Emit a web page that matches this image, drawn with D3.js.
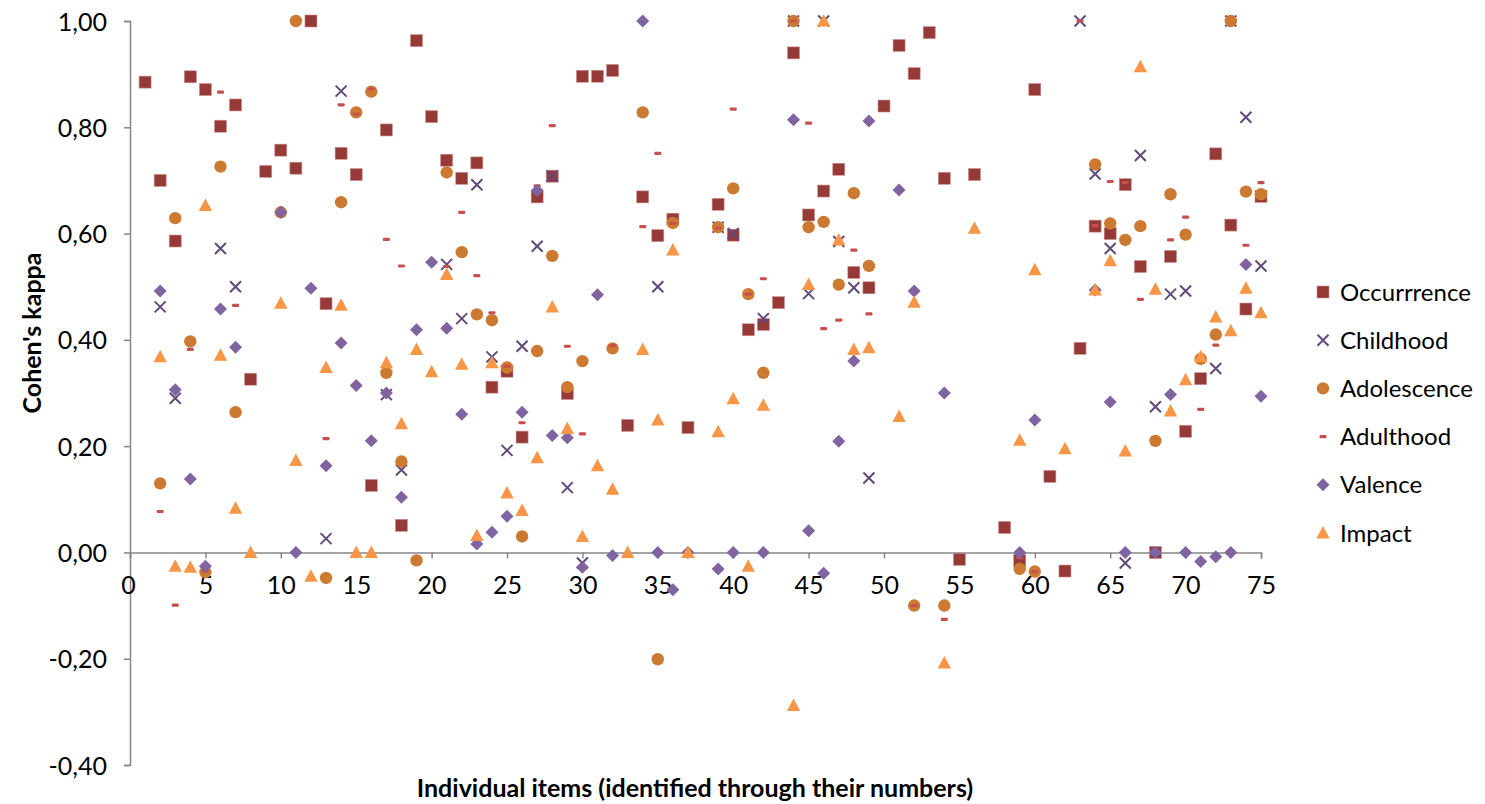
<!DOCTYPE html>
<html><head><meta charset="utf-8">
<script src="https://cdn.jsdelivr.net/npm/d3@7"></script>
<style>body{margin:0;background:#fff}svg{display:block}text{font-family:Lato,"Liberation Sans",sans-serif}</style>
</head><body><svg id="c" width="1485" height="804"></svg>
<script>
const items = d3.range(1, 76);
const xTicks = [0,5,10,15,20,25,30,35,40,45,50,55,60,65,70,75];
const yTicks = [-0.4,-0.2,0,0.2,0.4,0.6,0.8,1.0];
const seriesNames = ["Occurrrence","Childhood","Adolescence","Adulthood","Valence","Impact"];
const N = null;
const occurrence = [
 0.885,0.70,0.586,0.895,0.871,0.802,0.842,0.326,0.717,0.757,
 0.723,1.00,0.468,0.751,0.711,0.126,0.795,0.051,0.963,0.82,
 0.738,0.704,0.733,0.311,0.341,0.217,0.669,0.708,0.299,0.896,
 0.896,0.907,0.239,0.669,0.596,0.627,0.235,N,0.655,0.597,
 0.419,0.429,0.47,0.94,0.635,0.68,0.721,0.527,0.498,0.84,
 0.954,0.901,0.978,0.704,-0.013,0.711,N,0.047,-0.015,0.871,
 0.143,-0.035,0.384,0.614,0.60,0.692,0.538,0.00,0.557,0.228,
 0.327,0.75,0.616,0.458,0.67];
const childhood = [
 N,0.462,0.29,N,N,0.572,0.50,N,N,N,
 N,N,0.026,0.868,N,N,0.297,0.155,N,N,
 0.542,0.44,0.692,0.368,0.192,0.388,0.576,0.708,0.122,-0.02,
 N,N,N,N,0.50,N,N,N,0.612,0.60,
 N,0.44,N,1.00,0.487,1.00,0.585,0.498,0.14,N,
 N,N,N,N,N,N,N,N,N,N,
 N,N,1.00,0.712,0.572,-0.02,0.747,0.274,0.486,0.492,
 N,0.346,1.00,0.819,0.539];
const adolescence = [
 N,0.13,0.629,0.397,-0.037,0.726,0.264,N,N,0.64,
 1.00,N,-0.048,0.659,0.828,0.867,0.338,0.171,-0.015,N,
 0.715,0.565,0.448,0.437,0.348,0.03,0.379,0.558,0.311,0.36,
 N,0.384,N,0.828,-0.201,0.62,N,N,0.612,0.685,
 0.486,0.338,N,1.00,0.612,0.622,0.504,0.676,0.539,N,
 N,-0.10,N,-0.10,N,N,N,N,-0.031,-0.036,
 N,N,N,0.73,0.619,0.588,0.614,0.21,0.674,0.598,
 0.364,0.41,1.00,0.679,0.674];
const adulthood = [
 N,0.077,-0.099,0.382,-0.035,0.866,0.465,N,N,N,
 N,N,0.214,0.842,0.825,0.872,0.589,0.539,N,N,
 0.538,0.64,0.521,0.451,0.35,0.244,0.69,0.803,0.388,0.223,
 N,0.389,N,0.613,0.751,0.619,N,N,0.61,0.834,
 0.486,0.515,N,1.00,0.808,0.421,0.437,0.569,0.449,N,
 N,-0.10,N,-0.126,N,N,N,N,-0.01,-0.036,
 N,N,1.00,0.615,0.698,0.696,0.476,0.494,0.588,0.631,
 0.269,0.39,N,0.578,0.696];
const valence = [
 N,0.492,0.306,0.138,-0.026,0.458,0.386,N,N,0.64,
 0.00,0.497,0.163,0.394,0.314,0.21,0.30,0.104,0.419,0.546,
 0.422,0.26,0.016,0.038,0.068,0.264,0.681,0.22,0.216,-0.028,
 0.485,-0.006,N,1.00,0.00,-0.07,0.00,N,-0.031,0.00,
 N,0.00,N,0.814,0.041,-0.039,0.209,0.36,0.812,N,
 0.682,0.492,N,0.30,N,N,N,N,0.00,0.249,
 N,N,N,0.494,0.283,0.00,N,0.00,0.297,0.00,
 -0.017,-0.008,0.00,0.542,0.294];
const impact = [
 N,0.368,-0.026,-0.028,0.653,0.371,0.083,0.00,N,0.469,
 0.173,-0.045,0.348,0.465,0.00,0.00,0.357,0.242,0.382,0.34,
 0.523,0.354,0.032,0.357,0.112,0.079,0.178,0.462,0.233,0.03,
 0.163,0.119,0.00,0.382,0.249,0.569,0.00,N,0.227,0.289,
 -0.026,0.277,N,-0.288,0.504,1.00,0.588,0.382,0.385,N,
 0.256,0.471,N,-0.208,N,0.61,N,N,0.211,0.532,
 N,0.195,N,0.494,0.549,0.191,0.914,0.495,0.266,0.325,
 0.368,0.443,0.417,0.497,0.451];

const seriesData = [occurrence, childhood, adolescence, adulthood, valence, impact];
const colors = ["#963a38","#604a7b","#cc7a32","#c6504d","#8064a2","#f79646"];
const shapes = ["square","x","circle","dash","diamond","triangle"];

const svg = d3.select("#c");
const x = d3.scaleLinear().domain([0,75]).range([130,1261]);
const y = d3.scaleLinear().domain([-0.4,1.0]).range([765,21]);
const fmt = v => d3.format(".2f")(v).replace(".", ",").replace("−","-");
const axisColor = "#868686";
const FONT = "Lato,'Liberation Sans',sans-serif";

// y axis
const ya = svg.append("g").attr("transform","translate(130,0)")
  .call(d3.axisLeft(y).tickValues(yTicks).tickSize(6).tickPadding(17).tickFormat(fmt));
// x axis at y=0
const xa = svg.append("g").attr("transform",`translate(0,${y(0)})`)
  .call(d3.axisBottom(x).tickValues(xTicks).tickSize(6).tickPadding(18).tickFormat(d3.format("d")));
[ya,xa].forEach(g=>{
  g.select(".domain").attr("stroke",axisColor).attr("stroke-width",1.5);
  g.selectAll(".tick line").attr("stroke",axisColor).attr("stroke-width",1.5);
  g.selectAll(".tick text").attr("fill","#000").style("font-size","25px").style("font-family",FONT);
});
xa.select(".tick text").attr("dx","-2");
ya.selectAll(".tick text").attr("dy","0.36em");

function drawMarker(g, shape, color, cx, cy) {
  switch(shape) {
    case "square": g.append("rect").attr("x",cx-6).attr("y",cy-6).attr("width",12).attr("height",12).attr("fill",color).attr("stroke","#c9918f").attr("stroke-width",0.6); break;
    case "circle": g.append("circle").attr("cx",cx).attr("cy",cy).attr("r",6.2).attr("fill",color); break;
    case "dash": g.append("rect").attr("x",cx-3.5).attr("y",cy-1.6).attr("width",7).attr("height",3.2).attr("rx",1).attr("fill",color); break;
    case "diamond": g.append("path").attr("d",`M${cx},${cy-6.5}L${cx+6.5},${cy}L${cx},${cy+6.5}L${cx-6.5},${cy}Z`).attr("fill",color); break;
    case "triangle": g.append("path").attr("d",`M${cx},${cy-7}L${cx+6.7},${cy+5.5}L${cx-6.7},${cy+5.5}Z`).attr("fill",color); break;
    case "x": g.append("path").attr("d",`M${cx-5.5},${cy-5.5}L${cx+5.5},${cy+5.5}M${cx-5.5},${cy+5.5}L${cx+5.5},${cy-5.5}`).attr("stroke",color).attr("stroke-width",2).attr("fill","none"); break;
  }
}

const plot = svg.append("g");
seriesData.forEach((arr, si) => {
  const g = plot.append("g").attr("class","series-"+si);
  arr.forEach((v, i) => {
    if (v === null) return;
    drawMarker(g, shapes[si], colors[si], x(items[i]), y(v));
  });
});

// legend
const leg = svg.append("g");
seriesNames.forEach((name, i) => {
  const ly = 292 + i*48.2;
  drawMarker(leg, shapes[i], colors[i], 1323, ly);
  leg.append("text").attr("x",1340).attr("y",ly).attr("dy","0.36em").style("font-size","24px").text(name);
});

// axis titles
svg.append("text").attr("transform","translate(41,333) rotate(-90)").attr("text-anchor","middle")
  .style("font-size","25px").style("font-weight","bold").text("Cohen's  kappa");
svg.append("text").attr("x",695).attr("y",797).attr("text-anchor","middle")
  .style("font-size","25px").style("font-weight","bold").text("Individual items (identified through their numbers)");
</script></body></html>
